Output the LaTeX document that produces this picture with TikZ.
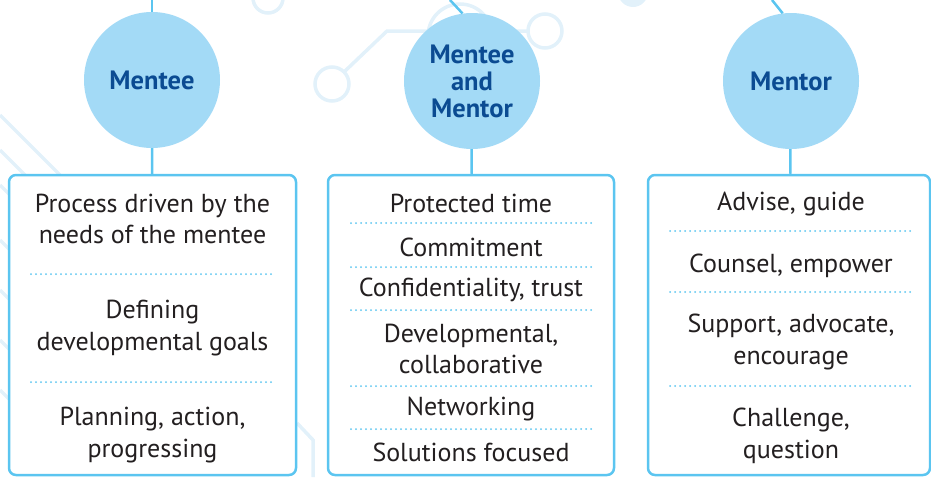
\documentclass[tikz,border=0pt]{standalone}
\usepackage{fontspec}
\setmainfont{PT Sans}
\definecolor{linkblue}{HTML}{5BC5F0}
\definecolor{hubfill}{HTML}{A3DAF6}
\definecolor{hubtext}{HTML}{0B4B92}
\definecolor{deco}{HTML}{E2F1FA}
\definecolor{bodytext}{HTML}{231F20}
\begin{document}
\begin{tikzpicture}[x=1pt,y=-1pt,
		hub/.style={circle,fill=hubfill,minimum size=136pt,inner sep=0pt,text=hubtext,font=\fontsize{26.5}{27}\selectfont\bfseries,align=center},
		panel/.style={draw=linkblue,line width=2.5pt,rounded corners=7pt,fill=white,minimum height=300pt,inner sep=0pt},
		item/.style={text=bodytext,font=\fontsize{26}{31.5}\selectfont,align=center},
		link/.style={draw=linkblue,line width=2.5pt},
		sep/.style={draw=linkblue,line width=2pt,line cap=round,dash pattern=on 0pt off 5pt},
		circuit/.style={draw=deco,line width=3.5pt}]
		\useasboundingbox (0,0) rectangle (931,477);

		\draw[circuit] (268,-2) circle (15);
		\draw[circuit] (332,84) circle (17);
		\draw[circuit] (344,72)--(387,31)--(528,31);
		\draw[circuit] (545,31) circle (17);
		\draw[circuit] (460,36) circle (32);
		\fill[deco] (633,-8) circle (15);
		\foreach \y in {115,150,185,240,290,340,390}
			\draw[circuit] (0,\y)--(60,\y+60);
		\draw[circuit] (297,423)--(313,440)--(313,477);

		\node[panel,minimum width=287pt] (menteebox) at (152.5,325) {};
		\node[panel,minimum width=286pt] (bothbox) at (471,325) {};
		\node[panel,minimum width=282pt] (mentorbox) at (789,325) {};

		\node[hub] (mentee) at (152,80) {Mentee};
		\node[hub] (both) at (472,81) {Mentee\\and\\Mentor};
		\node[hub] (mentor) at (791,81) {Mentor};

		\coordinate (menteetop) at (152,0);
		\coordinate (bothtop) at (450,0);
		\coordinate (mentortop) at (772,0);
		\draw[link] (menteetop)--(mentee);
		\draw[link] (bothtop)--(both.98);
		\draw[link] (mentortop)--(mentor.97);
		\draw[link] (mentee)--(menteebox);
		\draw[link] (both)--(bothbox);
		\draw[link] (mentor)--(mentorbox);

		\node[item] (needs) at (152.5,219) {Process driven by the\\needs of the mentee};
		\draw[sep] (31,274)--(275,274);
		\node[item] (goals) at (152.5,328) {Defining\\developmental goals};
		\draw[sep] (31,382)--(275,382);
		\node[item] (plan) at (152.5,435) {Planning, action,\\progressing};

		\node[item] (time) at (471,203) {Protected time};
		\draw[sep] (351,223)--(594,223);
		\node[item] (commit) at (471,247) {Commitment};
		\draw[sep] (351,267)--(594,267);
		\node[item] (trust) at (471,290) {Confidentiality, trust};
		\draw[sep] (351,310)--(594,310);
		\node[item] (collab) at (471,349) {Developmental,\\collaborative};
		\draw[sep] (351,386)--(594,386);
		\node[item] (network) at (471,409) {Networking};
		\draw[sep] (351,429)--(594,429);
		\node[item] (solve) at (471,452) {Solutions focused};

		\node[item] (advise) at (791,204) {Advise, guide};
		\draw[sep] (670,231)--(913,231);
		\node[item] (counsel) at (791,266) {Counsel, empower};
		\draw[sep] (670,292)--(913,292);
		\node[item] (support) at (791,342) {Support, advocate,\\encourage};
		\draw[sep] (670,386)--(913,386);
		\node[item] (question) at (791,436) {Challenge,\\question};
	\end{tikzpicture}
\end{document}
